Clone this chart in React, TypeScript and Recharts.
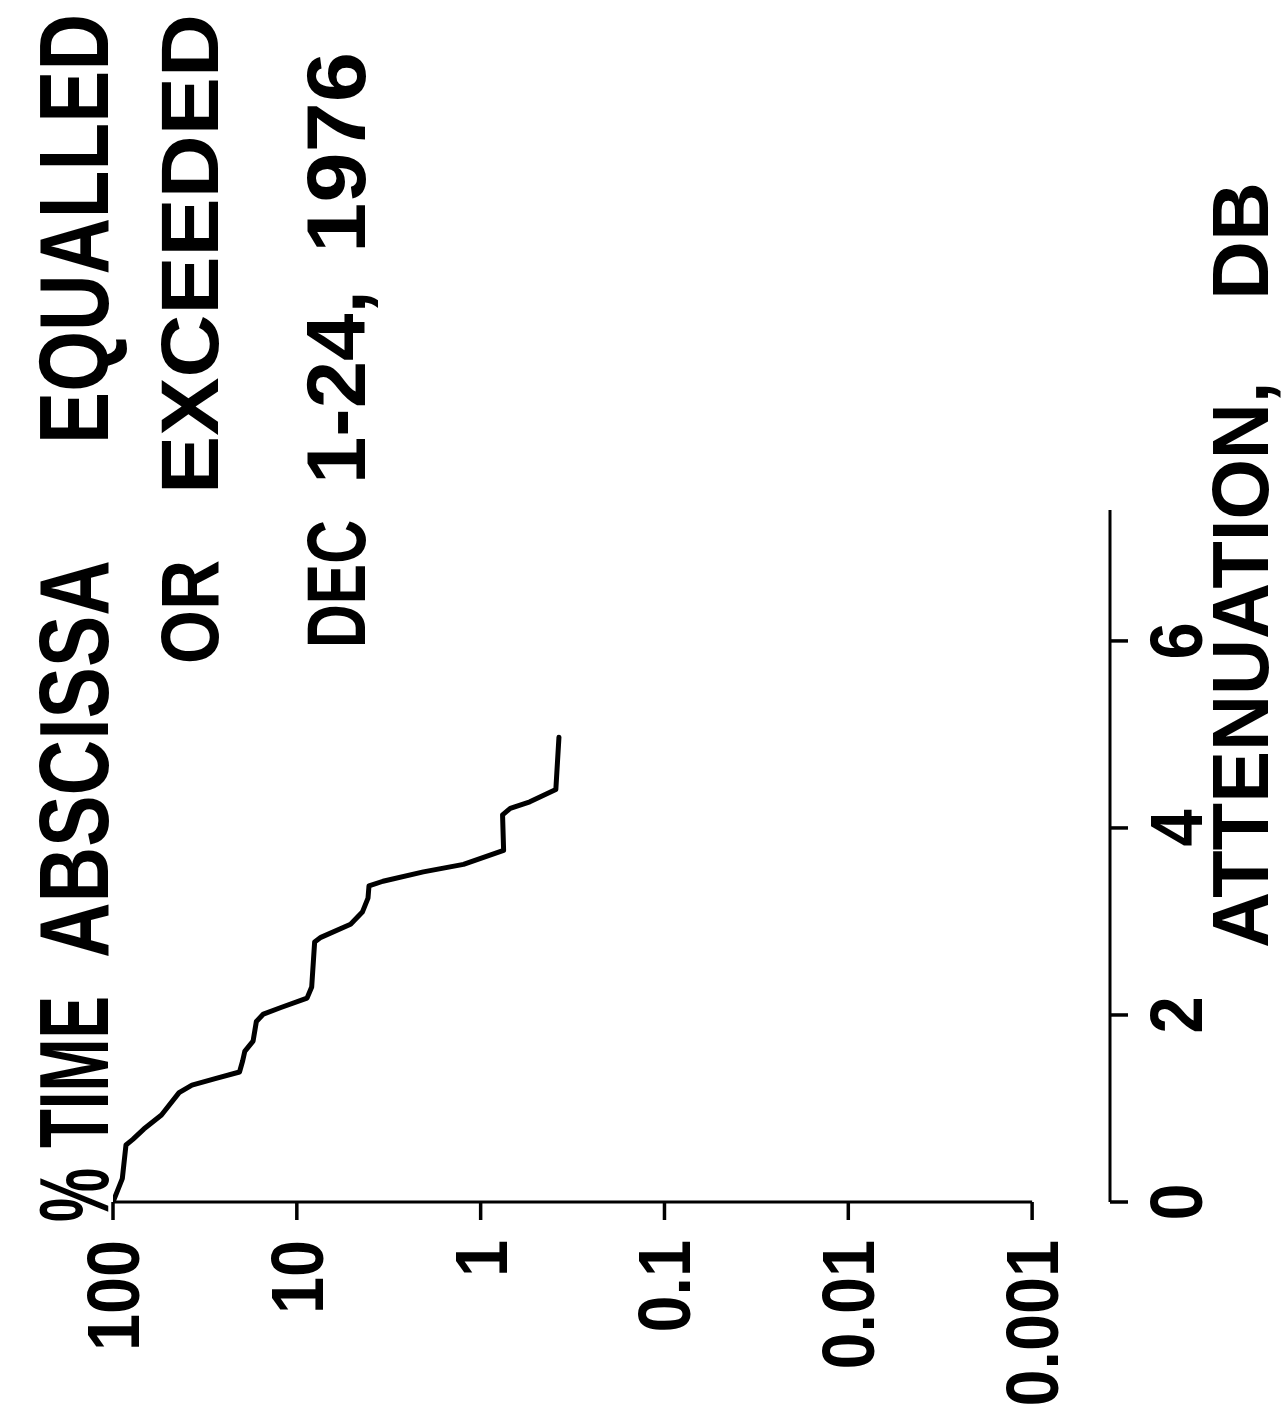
import React from "react";
import { LineChart, Line, XAxis, YAxis, ReferenceLine } from "recharts";

// attenuation (dB) vs % time the abscissa is equalled or exceeded
const attenuationDb = [
  0, 0.25, 0.61, 0.67, 0.78, 0.93, 1.17, 1.25, 1.32, 1.39, 1.51, 1.61, 1.72,
  1.93, 2.01, 2.08, 2.18, 2.3, 2.78, 2.83, 2.97, 3.1, 3.25, 3.38, 3.43, 3.53,
  3.61, 3.76, 4.14, 4.21, 4.28, 4.41, 4.97,
];
const percentTime = [
  100, 89, 85, 78, 68, 54.5, 43.7, 37.2, 27.8, 20.5, 19.7, 19.2, 17.3, 16.6,
  15.2, 12.2, 8.8, 8.3, 8.0, 7.4, 5.1, 4.4, 4.1, 4.05, 3.4, 2.05, 1.24, 0.75,
  0.76, 0.69, 0.54, 0.39, 0.375,
];
const xTicks = [0, 2, 4, 6];
const yTicks = [100, 10, 1, 0.1, 0.01, 0.001];
const yTickLabels = ["100", "10", "1", "0.1", "0.01", "0.001"];

const titleWords1 = ["%", "TIME", "ABSCISSA", "EQUALLED"];
const titleWords2 = ["OR", "EXCEEDED"];
const titleWords3 = ["DEC", "1-24,", "1976"];
const axisTitleWords = ["ATTENUATION,", "DB"];

const curve = attenuationDb.map((a, i) => ({ att: a, pct: percentTime[i] }));

// chart is drawn upright then turned a quarter turn counter-clockwise
const W = 1416;
const H = 1288;
const FONT = "'Liberation Sans', Arial, Helvetica, sans-serif";

// bold advance widths (per 1000 em) to squeeze each word to its measured length
const ADV: Record<string, number> = {
  "%": 889, T: 611, I: 278, M: 833, E: 667, A: 722, B: 722, S: 667, C: 722,
  Q: 778, U: 722, L: 611, D: 722, O: 778, R: 722, X: 667, N: 722, ",": 278,
  "-": 333,
};
const textWidth = (s: string, size: number) =>
  s.split("").reduce((acc, ch) => acc + (ADV[ch] ?? 556), 0) * size / 1000;

const YTick = (props: any) => {
  const { x, y, payload } = props;
  const i = yTicks.indexOf(payload.value);
  return (
    <g transform={`translate(${x},${y}) scale(0.9,1)`}>
      <text
        x={0}
        y={0}
        dy={26}
        textAnchor="end"
        fontSize={74}
        fontWeight="bold"
        fontFamily={FONT}
        fill="#000"
      >
        {i >= 0 ? yTickLabels[i] : payload.value}
      </text>
    </g>
  );
};

const XTick = (props: any) => {
  const { x, y, payload } = props;
  return (
    <g transform={`translate(${x},${y}) scale(0.9,1)`}>
      <text
        x={0}
        y={0}
        dy={74}
        textAnchor="middle"
        fontSize={74}
        fontWeight="bold"
        fontFamily={FONT}
        fill="#000"
      >
        {payload.value}
      </text>
    </g>
  );
};

const Words = ({
  words,
  spans,
  baseline,
  size,
}: {
  words: string[];
  spans: number[][];
  baseline: number;
  size: number;
}) => (
  <>
    {words.map((w, i) => {
      const sx = (spans[i][1] - spans[i][0]) / textWidth(w, size);
      return (
        <text
          key={w}
          x={0}
          y={0}
          transform={`translate(${spans[i][0]},${baseline}) scale(${sx},1)`}
          fontSize={size}
          fontWeight="bold"
          fontFamily={FONT}
          fill="#000"
        >
          {w}
        </text>
      );
    })}
  </>
);

export default function App() {
  return (
    <div
      style={{
        position: "absolute",
        left: 0,
        top: 0,
        width: H,
        height: W,
        background: "#fff",
        overflow: "hidden",
      }}
    >
      <div
        style={{
          position: "absolute",
          left: 0,
          top: 0,
          width: W,
          height: H,
          transformOrigin: "0 0",
          transform: `translate(0px, ${W}px) rotate(-90deg)`,
        }}
      >
        <div style={{ position: "absolute", left: 0, top: 0 }}>
          <LineChart
            width={W}
            height={H}
            data={curve}
            margin={{ top: 113, right: 510, left: 0, bottom: 28 }}
          >
            <XAxis
              dataKey="att"
              type="number"
              domain={[0, 7.4]}
              ticks={xTicks}
              allowDataOverflow
              height={150}
              tickSize={18}
              tickMargin={0}
              axisLine={{ stroke: "#000", strokeWidth: 3 }}
              tickLine={{ stroke: "#000", strokeWidth: 3.5 }}
              tick={<XTick />}
            />
            <YAxis
              dataKey="pct"
              type="number"
              scale="log"
              domain={[0.000377, 100]}
              ticks={yTicks}
              allowDataOverflow
              width={214}
              tickSize={18}
              tickMargin={20}
              axisLine={false}
              tickLine={{ stroke: "#000", strokeWidth: 3.5 }}
              tick={<YTick />}
            />
            <ReferenceLine
              segment={[
                { x: 0, y: 0.001 },
                { x: 0, y: 100 },
              ]}
              stroke="#000"
              strokeWidth={3}
              ifOverflow="visible"
            />
            <Line
              type="linear"
              dataKey="pct"
              stroke="#000"
              strokeWidth={5}
              strokeLinejoin="round"
              strokeLinecap="round"
              dot={false}
              isAnimationActive={false}
            />
          </LineChart>
        </div>
        <svg
          width={W}
          height={H}
          style={{ position: "absolute", left: 0, top: 0, pointerEvents: "none" }}
        >
          <Words
            words={titleWords1}
            spans={[
              [194, 248],
              [268, 420],
              [458, 856],
              [972, 1402],
            ]}
            baseline={108}
            size={98}
          />
          <Words
            words={titleWords2}
            spans={[
              [752, 856],
              [922, 1402],
            ]}
            baseline={218}
            size={81}
          />
          <Words
            words={titleWords3}
            spans={[
              [768, 896],
              [932, 1126],
              [1163, 1364],
            ]}
            baseline={365}
            size={84}
          />
          <Words
            words={axisTitleWords}
            spans={[
              [468, 1046],
              [1116, 1234],
            ]}
            baseline={1268}
            size={80}
          />
        </svg>
      </div>
    </div>
  );
}
